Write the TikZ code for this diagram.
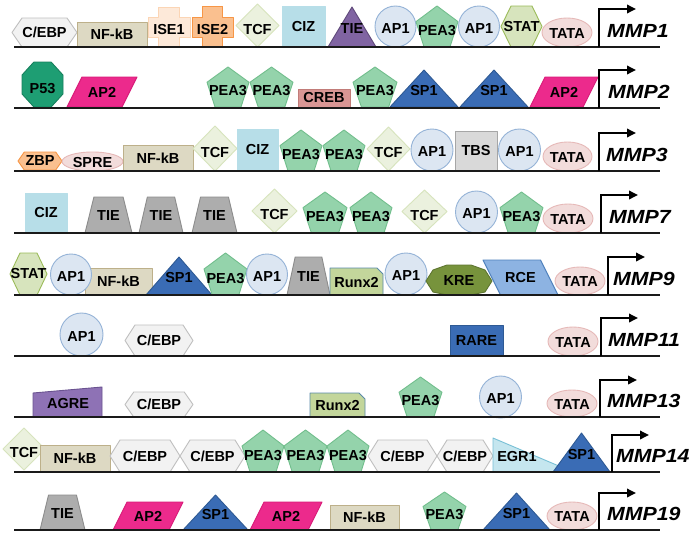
\documentclass[tikz,border=0pt]{standalone}
\usepackage{fontspec}
\setmainfont{Liberation Sans}
\usetikzlibrary{arrows.meta}

% element colours (fill F / border D)
\definecolor{cebpF}{HTML}{F2F2F2}\definecolor{cebpD}{HTML}{BFBFBF}
\definecolor{nfkbF}{HTML}{DDD9C3}\definecolor{nfkbD}{HTML}{BDB08A}
\definecolor{iseaF}{HTML}{FDE9D9}\definecolor{iseaD}{HTML}{FBD5B5}
\definecolor{isebF}{HTML}{FAC08F}\definecolor{isebD}{HTML}{F79646}
\definecolor{tcfF}{HTML}{EBF1DE}\definecolor{tcfD}{HTML}{D7E4BD}
\definecolor{cizF}{HTML}{B7DEE8}
\definecolor{tiepF}{HTML}{8064A2}\definecolor{tiepD}{HTML}{5F497A}
\definecolor{apoF}{HTML}{DCE6F2}\definecolor{apoD}{HTML}{95B3D7}
\definecolor{peaF}{HTML}{94D3AB}\definecolor{peaD}{HTML}{71BE8C}
\definecolor{statF}{HTML}{D7E4BD}\definecolor{statD}{HTML}{9BBB59}
\definecolor{tataF}{HTML}{F2DCDB}\definecolor{tataD}{HTML}{E6B9B8}
\definecolor{psfF}{HTML}{1E9E73}\definecolor{psfD}{HTML}{17805D}
\definecolor{aptF}{HTML}{EC2A8C}\definecolor{aptD}{HTML}{D81B78}
\definecolor{crebF}{HTML}{D99694}\definecolor{crebD}{HTML}{C27C79}
\definecolor{spoF}{HTML}{3A6CB5}\definecolor{spoD}{HTML}{2E5A94}
\definecolor{tbsF}{HTML}{D9D9D9}\definecolor{tbsD}{HTML}{A6A6A6}
\definecolor{tiegF}{HTML}{ADADAD}\definecolor{tiegD}{HTML}{8C8C8C}
\definecolor{runxF}{HTML}{C3D69B}\definecolor{runxD}{HTML}{5A8AA8}
\definecolor{kreF}{HTML}{77933C}\definecolor{kreD}{HTML}{5E7530}
\definecolor{rceF}{HTML}{8DB3E2}\definecolor{rceD}{HTML}{4F81BD}
\definecolor{agreF}{HTML}{8E72B5}\definecolor{agreD}{HTML}{6A5390}
\definecolor{egrF}{HTML}{C5E6EF}\definecolor{egrD}{HTML}{78C0D6}
\definecolor{dnaC}{HTML}{1A1A1A}

\tikzset{
  elem/.style={line width=0.9pt, line join=round},
  cebpbox/.style={elem, fill=cebpF, draw=cebpD},
  nfkbbox/.style={elem, fill=nfkbF, draw=nfkbD},
  iseabox/.style={elem, fill=iseaF, draw=iseaD},
  isebbox/.style={elem, fill=isebF, draw=isebD},
  tcfbox/.style={elem, fill=tcfF, draw=tcfD},
  cizbox/.style={elem, fill=cizF, draw=cizF},
  tiepbox/.style={elem, fill=tiepF, draw=tiepD},
  apobox/.style={elem, fill=apoF, draw=apoD},
  peabox/.style={elem, fill=peaF, draw=peaD},
  statbox/.style={elem, fill=statF, draw=statD},
  tatabox/.style={elem, fill=tataF, draw=tataD},
  psfbox/.style={elem, fill=psfF, draw=psfD},
  aptbox/.style={elem, fill=aptF, draw=aptD},
  crebbox/.style={elem, fill=crebF, draw=crebD},
  spobox/.style={elem, fill=spoF, draw=spoD},
  zbpbox/.style={elem, fill=isebF, draw=isebD},
  tbsbox/.style={elem, fill=tbsF, draw=tbsD},
  tiegbox/.style={elem, fill=tiegF, draw=tiegD},
  runxbox/.style={elem, fill=runxF, draw=runxD},
  krebox/.style={elem, fill=kreF, draw=kreD},
  rcebox/.style={elem, fill=rceF, draw=rceD},
  agrebox/.style={elem, fill=agreF, draw=agreD},
  egrbox/.style={elem, fill=egrF, draw=egrD},
  lbl/.style={font=\bfseries\fontsize{14.5}{14.5}\selectfont, inner sep=0pt, text=black},
  genelbl/.style={font=\bfseries\itshape\fontsize{19}{19}\selectfont, inner sep=0pt, anchor=base west},
  dna/.style={line width=2.4pt, draw=dnaC},
  tss/.style={line width=1.8pt, draw=black, -{Triangle[length=9pt,width=8.5pt]}},
}

% every element macro: #1 style, #2 left, #3 right, #4 top, #5 bottom, #6 label
\newcommand\tfRect[6]{%
  \path[#1] (#2,#4) rectangle (#3,#5);
  \node[lbl] at ({(#2+#3)/2},{(#4+#5)/2}) {#6};}
\newcommand\tfSnip[6]{%
  \path[#1] (#2,#4) -- ({#3-6},#4) -- (#3,{#4+6}) -- (#3,#5) -- (#2,#5) -- cycle;
  \node[lbl] at ({(#2+#3)/2},{(#4+#5)/2+1}) {#6};}
\newcommand\tfHex[6]{%
  \pgfmathsetmacro\tfd{min(10,0.35*(#5-#4))}%
  \pgfmathsetmacro\tfm{(#4+#5)/2}%
  \path[#1] (#2,\tfm) -- ({#2+\tfd},#4) -- ({#3-\tfd},#4) -- (#3,\tfm)
    -- ({#3-\tfd},#5) -- ({#2+\tfd},#5) -- cycle;
  \node[lbl] at ({(#2+#3)/2},\tfm) {#6};}
\newcommand\tfCross[6]{%
  \pgfmathsetmacro\tfa{#2+0.25*(#3-#2)}%
  \pgfmathsetmacro\tfb{#3-0.25*(#3-#2)}%
  \pgfmathsetmacro\tfc{#4+0.27*(#5-#4)}%
  \pgfmathsetmacro\tfe{#4+0.77*(#5-#4)}%
  \path[#1] (\tfa,#4) -- (\tfb,#4) -- (\tfb,\tfc) -- (#3,\tfc) -- (#3,\tfe)
    -- (\tfb,\tfe) -- (\tfb,#5) -- (\tfa,#5) -- (\tfa,\tfe) -- (#2,\tfe)
    -- (#2,\tfc) -- (\tfa,\tfc) -- cycle;
  \node[lbl] at ({(#2+#3)/2},{(\tfc+\tfe)/2+2}) {#6};}
\newcommand\tfDiamond[6]{%
  \pgfmathsetmacro\tfm{(#4+#5)/2}\pgfmathsetmacro\tfx{(#2+#3)/2}%
  \path[#1] (\tfx,#4) -- (#3,\tfm) -- (\tfx,#5) -- (#2,\tfm) -- cycle;
  \node[lbl] at (\tfx,{\tfm+4}) {#6};}
\newcommand\tfPent[6]{%
  \pgfmathsetmacro\tfx{(#2+#3)/2}\pgfmathsetmacro\tfw{#3-#2}\pgfmathsetmacro\tfh{#5-#4}%
  \path[#1] (\tfx,#4) -- (#3,{#4+0.382*\tfh}) -- ({\tfx+0.309*\tfw},#5)
    -- ({\tfx-0.309*\tfw},#5) -- (#2,{#4+0.382*\tfh}) -- cycle;
  \node[lbl] at (\tfx,{#4+0.6*\tfh}) {#6};}
\newcommand\tfCircle[6]{%
  \pgfmathsetmacro\tfx{(#2+#3)/2}\pgfmathsetmacro\tfm{(#4+#5)/2}%
  \pgfmathsetmacro\tfr{min(#3-#2,#5-#4)/2}%
  \path[#1] (\tfx,\tfm) circle[radius=\tfr];
  \node[lbl] at (\tfx,{\tfm+2}) {#6};}
\newcommand\tfEllipse[6]{%
  \pgfmathsetmacro\tfx{(#2+#3)/2}\pgfmathsetmacro\tfm{(#4+#5)/2}%
  \path[#1] (\tfx,\tfm) ellipse[x radius={(#3-#2)/2}, y radius={(#5-#4)/2}];
  \node[lbl] at (\tfx,{\tfm+1}) {#6};}
\newcommand\tfOct[6]{%
  \pgfmathsetmacro\tfw{0.29*(#3-#2)}\pgfmathsetmacro\tfh{0.29*(#5-#4)}%
  \path[#1] ({#2+\tfw},#4) -- ({#3-\tfw},#4) -- (#3,{#4+\tfh}) -- (#3,{#5-\tfh})
    -- ({#3-\tfw},#5) -- ({#2+\tfw},#5) -- (#2,{#5-\tfh}) -- (#2,{#4+\tfh}) -- cycle;
  \node[lbl] at ({(#2+#3)/2},{(#4+#5)/2+4}) {#6};}
\newcommand\tfTri[6]{%
  \pgfmathsetmacro\tfx{(#2+#3)/2}%
  \path[#1] (#2,#5) -- (\tfx,#4) -- (#3,#5) -- cycle;
  \node[lbl] at (\tfx,{#4+0.55*(#5-#4)}) {#6};}
\newcommand\tfPara[6]{%
  \pgfmathsetmacro\tfs{0.5*(#5-#4)}%
  \path[#1] (#2,#5) -- ({#2+\tfs},#4) -- (#3,#4) -- ({#3-\tfs},#5) -- cycle;
  \node[lbl] at ({(#2+#3)/2},{(#4+#5)/2}) {#6};}
\newcommand\tfParaL[6]{%
  \pgfmathsetmacro\tfs{0.5*(#5-#4)}%
  \path[#1] (#2,#4) -- ({#3-\tfs},#4) -- (#3,#5) -- ({#2+\tfs},#5) -- cycle;
  \node[lbl] at ({(#2+#3)/2},{(#4+#5)/2}) {#6};}
\newcommand\tfTrap[6]{%
  \pgfmathsetmacro\tfs{0.19*(#3-#2)}%
  \path[#1] (#2,#5) -- ({#2+\tfs},#4) -- ({#3-\tfs},#4) -- (#3,#5) -- cycle;
  \node[lbl] at ({(#2+#3)/2},{(#4+#5)/2+1}) {#6};}
% promoter line, start site and gene name: #1 baseline, #2 arrow x, #3 arrow top, #4 name x, #5 name
\newcommand\tfGene[5]{%
  \draw[dna] (14,#1) -- (660,#1);
  \draw[tss] (#2,#1) -- (#2,#3) -- ({#2+37},#3);
  \node[genelbl] at (#4,{#1-10}) {\scalebox{1.12}[1]{#5}};}

\begin{document}
\begin{tikzpicture}[x=1pt,y=-1pt]
\useasboundingbox[fill=white] (0,0) rectangle (697,533);

% ---- MMP1
\tfHex{cebpbox}{12}{77}{18}{47}{C/EBP}
\tfRect{nfkbbox}{77}{147}{22}{47}{NF-kB}
\tfCross{iseabox}{148}{190}{7}{47}{ISE1}
\tfCross{isebbox}{192}{233}{6}{47}{ISE2}
\tfDiamond{tcfbox}{236}{279}{4}{47}{TCF}
\tfRect{cizbox}{282}{325}{6}{47}{CIZ}
\tfTri{tiepbox}{328}{376}{7}{47}{TIE}
\tfCircle{apobox}{375}{416}{6}{47}{AP1}
\tfPent{peabox}{416}{458}{6}{47}{PEA3}
\tfCircle{apobox}{458}{500}{6}{47}{AP1}
\tfHex{statbox}{501}{542}{6}{47}{STAT}
\tfEllipse{tatabox}{542}{592}{18}{47}{TATA}
\tfGene{47}{599}{9}{607}{MMP1}

% ---- MMP2
\tfOct{psfbox}{22}{63}{62}{107}{P53}
\tfPara{aptbox}{67}{137}{77}{107}{AP2}
\tfPent{peabox}{207}{249}{67}{107}{PEA3}
\tfPent{peabox}{250}{293}{67}{107}{PEA3}
\tfRect{crebbox}{298}{350}{89}{107}{CREB}
\tfPent{peabox}{353}{397}{67}{107}{PEA3}
\tfTri{spobox}{390}{458}{70}{107}{SP1}
\tfTri{spobox}{460}{528}{70}{107}{SP1}
\tfPara{aptbox}{530}{598}{77}{107}{AP2}
\tfGene{108}{599}{70}{608}{MMP2}

% ---- MMP3
\tfHex{zbpbox}{18}{62}{152}{170}{ZBP}
\tfEllipse{tatabox}{62}{123}{152}{171}{SPRE}
\tfRect{nfkbbox}{123}{193}{145}{171}{NF-kB}
\tfDiamond{tcfbox}{193}{237}{126}{171}{TCF}
\tfRect{cizbox}{237}{278}{129}{171}{CIZ}
\tfPent{peabox}{280}{322}{130}{171}{PEA3}
\tfPent{peabox}{323}{365}{130}{171}{PEA3}
\tfDiamond{tcfbox}{367}{410}{127}{171}{TCF}
\tfCircle{apobox}{411}{453}{129}{171}{AP1}
\tfRect{tbsbox}{455}{497}{131}{171}{TBS}
\tfCircle{apobox}{498}{541}{129}{171}{AP1}
\tfEllipse{tatabox}{543}{592}{142}{171}{TATA}
\tfGene{171}{599}{133}{606}{MMP3}

% ---- MMP7
\tfRect{cizbox}{25}{67}{193}{233}{CIZ}
\tfTrap{tiegbox}{85}{132}{197}{233}{TIE}
\tfTrap{tiegbox}{139}{183}{197}{233}{TIE}
\tfTrap{tiegbox}{192}{237}{197}{233}{TIE}
\tfDiamond{tcfbox}{252}{297}{189}{233}{TCF}
\tfPent{peabox}{303}{347}{192}{233}{PEA3}
\tfPent{peabox}{350}{392}{192}{233}{PEA3}
\tfDiamond{tcfbox}{402}{447}{190}{233}{TCF}
\tfCircle{apobox}{455}{498}{191}{233}{AP1}
\tfPent{peabox}{500}{543}{192}{233}{PEA3}
\tfEllipse{tatabox}{543}{593}{204}{233}{TATA}
\tfGene{233}{601}{195}{609}{MMP7}

% ---- MMP9
\tfHex{statbox}{10}{47}{253}{295}{STAT}
\tfRect{nfkbbox}{85}{152}{268}{295}{NF-kB}
\tfCircle{apobox}{50}{92}{254}{295}{AP1}
\tfTri{spobox}{146}{212}{257}{295}{SP1}
\tfPent{peabox}{204}{247}{253}{295}{PEA3}
\tfCircle{apobox}{246}{288}{254}{295}{AP1}
\tfTrap{tiegbox}{287}{330}{257}{295}{TIE}
\tfSnip{runxbox}{330}{383}{268}{295}{Runx2}
\tfCircle{apobox}{385}{427}{253}{295}{AP1}
\path[krebox] (426,281) -- (433,270) -- (447,265) -- (471,265) -- (485,270)
  -- (492,281) -- (485,292) -- (471,295) -- (447,295) -- (433,292) -- cycle;
\node[lbl] at (459,281) {KRE};
\tfParaL{rcebox}{483}{558}{260}{295}{RCE}
\tfEllipse{tatabox}{555}{605}{267}{295}{TATA}
\tfGene{295}{608}{257}{613}{MMP9}

% ---- MMP11
\tfCircle{apobox}{60}{103}{313}{356}{AP1}
\tfHex{cebpbox}{125}{193}{325}{356}{C/EBP}
\tfRect{spobox}{450}{503}{325}{356}{RARE}
\tfEllipse{tatabox}{548}{598}{327}{356}{TATA}
\tfGene{356}{601}{318}{608}{MMP11}

% ---- MMP13
\path[agrebox] (33,393) -- (102,387) -- (102,417) -- (33,417) -- cycle;
\node[lbl] at (68,404) {AGRE};
\tfHex{cebpbox}{125}{193}{392}{417}{C/EBP}
\tfSnip{runxbox}{310}{365}{393}{417}{Runx2}
\tfPent{peabox}{399}{442}{377}{417}{PEA3}
\tfCircle{apobox}{478}{523}{376}{418}{AP1}
\tfEllipse{tatabox}{547}{597}{390}{417}{TATA}
\tfGene{417}{600}{380}{607}{MMP13}

% ---- MMP14
\tfDiamond{tcfbox}{3}{45}{428}{470}{TCF}
\tfRect{nfkbbox}{40}{110}{445}{472}{NF-kB}
\tfHex{cebpbox}{110}{180}{440}{472}{C/EBP}
\tfHex{cebpbox}{180}{245}{440}{472}{C/EBP}
\tfPent{peabox}{242}{284}{430}{472}{PEA3}
\tfPent{peabox}{284}{327}{430}{472}{PEA3}
\tfPent{peabox}{327}{369}{430}{472}{PEA3}
\tfHex{cebpbox}{368}{437}{440}{472}{C/EBP}
\tfHex{cebpbox}{437}{493}{440}{472}{C/EBP}
\path[egrbox] (493,438) -- (573,472) -- (493,472) -- cycle;
\node[lbl] at (517,457) {EGR1};
\tfTri{spobox}{553}{610}{433}{472}{SP1}
\tfGene{472}{612}{435}{616}{MMP14}

% ---- MMP19
\tfTrap{tiegbox}{40}{85}{495}{530}{TIE}
\tfPara{aptbox}{113}{183}{502}{530}{AP2}
\tfTri{spobox}{183}{248}{495}{530}{SP1}
\tfPara{aptbox}{250}{322}{502}{530}{AP2}
\tfRect{nfkbbox}{330}{399}{505}{530}{NF-kB}
\tfPent{peabox}{423}{466}{492}{530}{PEA3}
\tfTri{spobox}{483}{550}{493}{530}{SP1}
\tfEllipse{tatabox}{547}{597}{502}{530}{TATA}
\tfGene{530}{599}{493}{607}{MMP19}
\end{tikzpicture}
\end{document}
